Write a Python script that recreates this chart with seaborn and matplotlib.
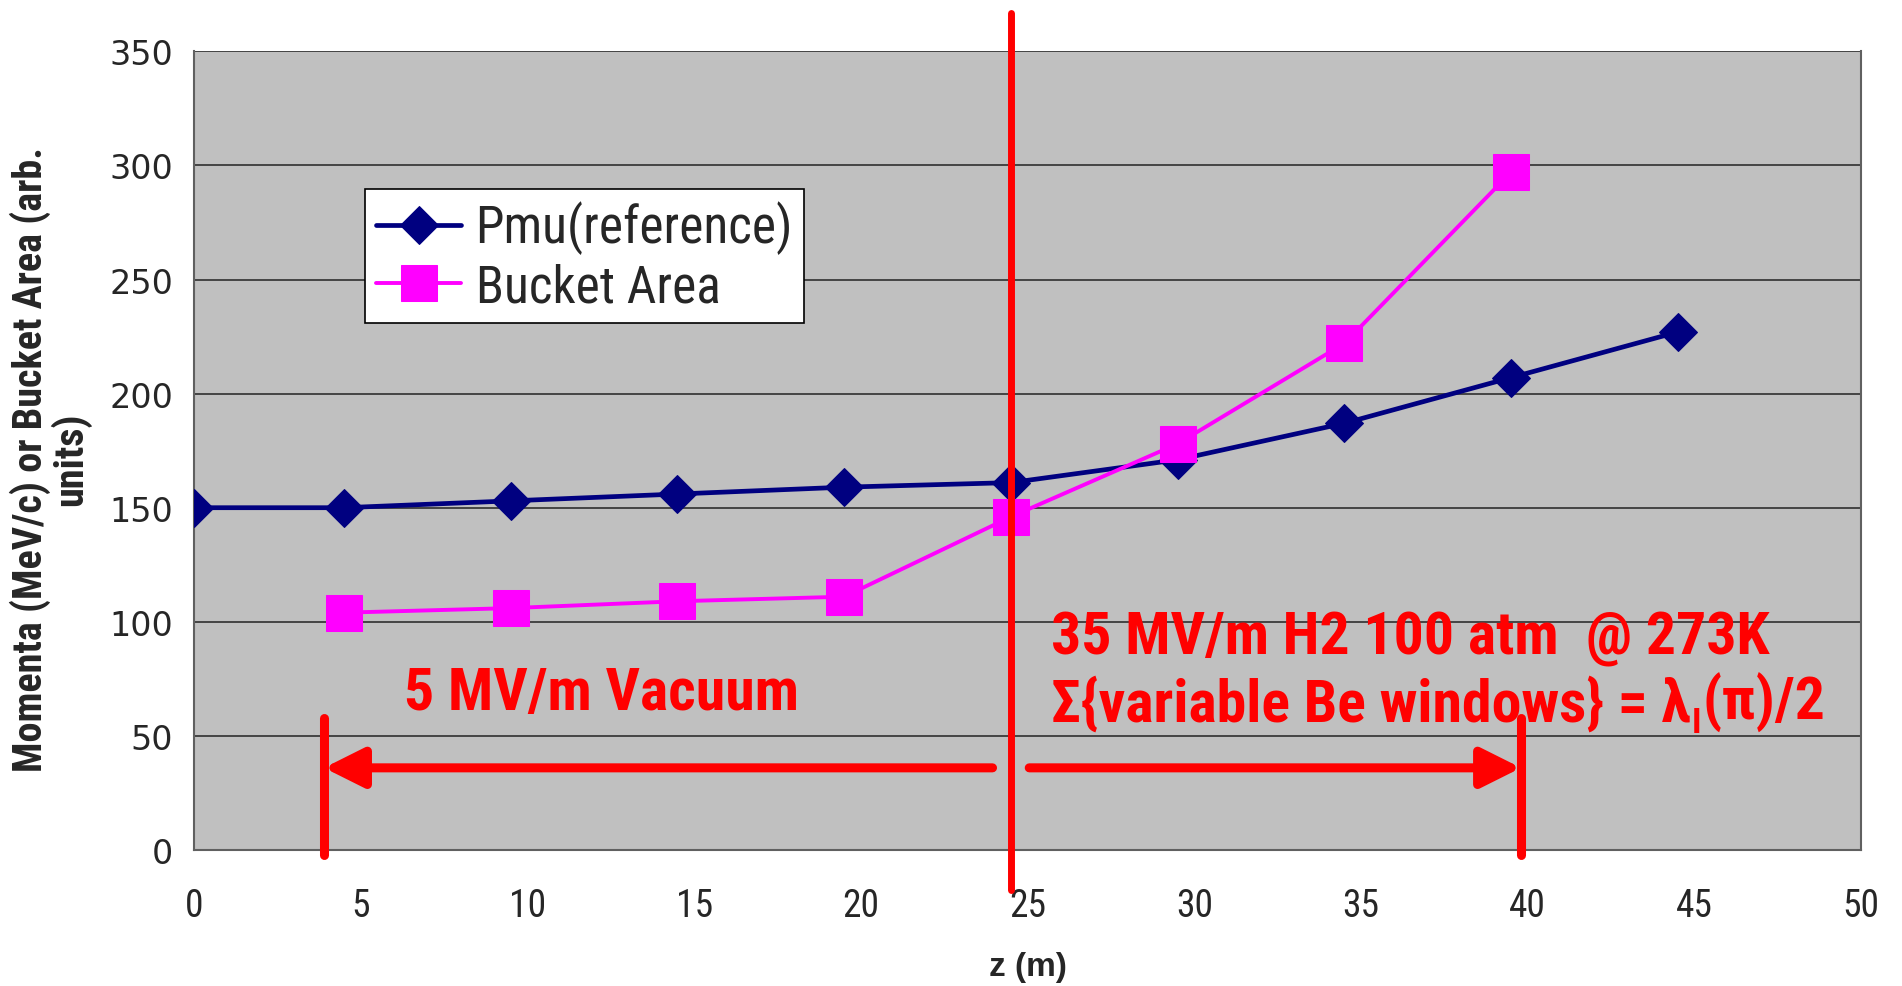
import matplotlib
matplotlib.use("Agg")
import matplotlib.pyplot as plt
from matplotlib import font_manager
from matplotlib.font_manager import FontProperties
import seaborn as sns

# Position along the channel (m) and the two tracked quantities
z_pmu = [0, 4.5, 9.5, 14.5, 19.5, 24.5, 29.5, 34.5, 39.5, 44.5]
pmu = [150, 150, 153, 156, 159, 161, 171, 187, 207, 227]
z_bucket = [4.5, 9.5, 14.5, 19.5, 24.5, 29.5, 34.5, 39.5]
bucket = [104, 106, 109, 111, 146, 178, 222, 297]

x_ticks = list(range(0, 51, 5))
y_ticks = list(range(0, 351, 50))

# Section boundaries (m) and annotation texts
z_split = 24.5
z_start = 3.9
z_end = 39.8
label_vacuum = "5 MV/m Vacuum"
label_gas_1 = "35 MV/m H2 100 atm  @ 273K"
label_gas_2a = "Σ{variable Be windows} = λ"
label_gas_2sub = "I"
label_gas_2b = "(π)/2"

sns.set_style("white", {"axes.facecolor": "#C0C0C0"})

names = {f.name for f in font_manager.fontManager.ttflist}
narrow = next((n for n in ["Roboto Condensed", "Liberation Sans Narrow", "DejaVu Sans"]
               if n in names), "DejaVu Sans")
fam = [narrow, "DejaVu Sans"]
plt.rcParams["font.family"] = fam

fig = plt.figure(figsize=(19.02, 9.87), dpi=100)
ax = fig.add_axes([0.102, 0.1378, 0.8765, 0.8092])

sns.lineplot(x=z_pmu, y=pmu, ax=ax, color="#000080", marker="D", markersize=19,
             markeredgecolor="#000080", linewidth=3.4, label="Pmu(reference)", zorder=3)
sns.lineplot(x=z_bucket, y=bucket, ax=ax, color="#FF00FF", marker="s", markersize=26,
             markeredgecolor="#FF00FF", linewidth=2.8, label="Bucket Area", zorder=3)

ax.set_xlim(0, 50)
ax.set_ylim(0, 350)
ax.set_xticks(x_ticks)
ax.set_yticks(y_ticks)
ax.set_xticklabels([str(v) for v in x_ticks], fontsize=27, family=fam)
ax.set_yticklabels([str(v) for v in y_ticks], fontsize=24, family="DejaVu Sans")
ax.tick_params(axis="both", direction="out", length=7, width=1.2, color="#404040")
ax.tick_params(axis="x", pad=20)
ax.tick_params(axis="y", pad=8)

ax.yaxis.grid(True, color="#3a3a3a", linewidth=1.3)
ax.set_axisbelow(True)
for side in ["left", "bottom", "right", "top"]:
    ax.spines[side].set_color("#606060")
    ax.spines[side].set_linewidth(1.5)
ax.spines["top"].set_visible(False)

ax.set_xlabel("z (m)", fontsize=24, fontweight="bold", family="Liberation Sans")
ax.xaxis.set_label_coords(0.5, -0.127)
ax.set_ylabel("Momenta (MeV/c) or Bucket Area (arb.\nunits)", fontsize=29,
              fontweight="bold", family=fam, linespacing=0.95)
ax.yaxis.set_label_coords(-0.062, 0.49)

leg = ax.legend(loc="upper left", bbox_to_anchor=(0.1026, 0.827), borderaxespad=0,
                frameon=True, fancybox=False, edgecolor="black", facecolor="white",
                framealpha=1, prop=FontProperties(family=fam, size=37),
                handlelength=1.65, handletextpad=0.28, borderpad=0.22, labelspacing=0.15)
leg.get_frame().set_linewidth(1.2)

# Section divider and region brackets
red = "#FF0000"
ax.plot([z_split, z_split], [-17.5, 367], color=red, lw=5, clip_on=False, zorder=5)
ax.plot([z_start, z_start], [-2, 58], color=red, lw=6.5, clip_on=False, zorder=5)
ax.plot([z_end, z_end], [-2, 58], color=red, lw=6.5, clip_on=False, zorder=5)

arrow_style = dict(arrowstyle="-|>,head_length=1.2,head_width=0.6", lw=6.5,
                   color=red, shrinkA=0, shrinkB=0, mutation_scale=20)
ax.annotate("", xy=(z_start, 36), xytext=(z_split - 0.55, 36), arrowprops=arrow_style,
            zorder=5)
ax.annotate("", xy=(z_end, 36), xytext=(z_split + 0.55, 36), arrowprops=arrow_style,
            zorder=5)

text_kw = dict(color=red, fontsize=43, fontweight="bold", family=fam, zorder=6)
ax.text(6.3, 69, label_vacuum, va="center", **text_kw)
ax.text(25.7, 93, label_gas_1, va="center", **text_kw)
t2a = ax.text(25.7, 64, label_gas_2a, va="center", **text_kw)
sub = ax.annotate(label_gas_2sub, xy=(1, 0), xycoords=t2a, xytext=(1, -5),
                  textcoords="offset points", va="bottom", ha="left",
                  color=red, fontsize=25, fontweight="bold", family=fam, zorder=6)
ax.annotate(label_gas_2b, xy=(1, 0), xycoords=(sub, t2a), xytext=(1, 0),
            textcoords="offset points", va="bottom", ha="left", **text_kw)

fig.savefig("out.png", dpi=100, facecolor="white")
